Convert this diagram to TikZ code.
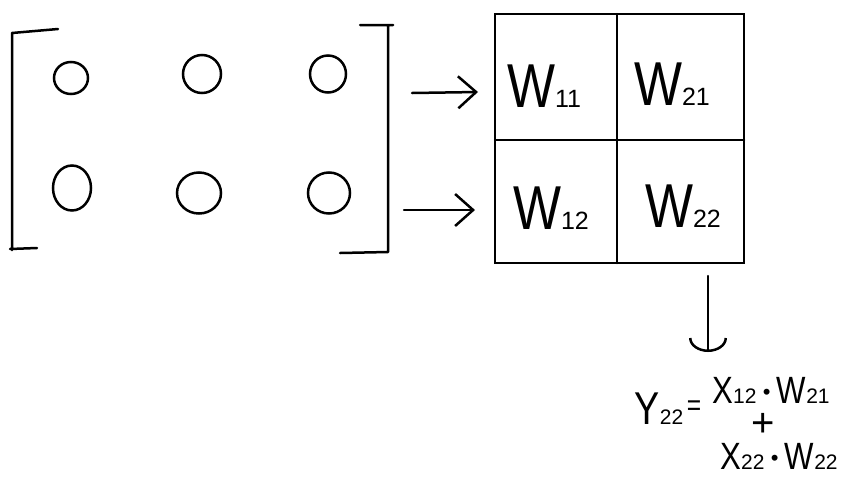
\documentclass[tikz,border=0pt]{standalone}
\usepackage{fontspec}
\setmainfont{Liberation Sans}
\usetikzlibrary{arrows.meta,shapes.geometric}
\newcommand{\nar}[1]{\scalebox{0.82}[1]{#1}}
\newcommand{\wsub}[1]{{\fontsize{25}{25}\selectfont #1}}
\newcommand{\esub}[1]{{\fontsize{21}{21}\selectfont #1}}
\newcommand{\edot}{\,{\fontsize{22}{22}\selectfont\raisebox{4pt}{•}}\,}
\begin{document}
\begin{tikzpicture}[x=1pt,y=-1pt,
  ink/.style={line width=2.5pt,line cap=round,line join=round,black},
  ring/.style={ellipse,draw,line width=2.5pt,inner sep=0pt},
  wlab/.style={font=\fontsize{62}{62}\selectfont,inner sep=0pt},
  elab/.style={font=\fontsize{38}{38}\selectfont,inner sep=0pt},
  harrow/.style={ink,-{Straight Barb[length=18pt,width=32pt,line width=2.5pt]}},
  varrow/.style={ink,-{Arc Barb[length=14pt,width=38pt,line width=2.5pt]}}]
\useasboundingbox (0,0) rectangle (862,488);
% matrix brackets
\draw[ink] (58,29) -- (12,33) -- (12,250) (10,249) -- (37,248);
\draw[ink] (360,25) -- (393,25) (388,25) -- (388,252) -- (340,253);
% rings
\node[ring,minimum width=34pt,minimum height=32pt] (x11) at (71,78) {};
\node[ring,minimum width=38pt,minimum height=38pt] (x21) at (202,74) {};
\node[ring,minimum width=36pt,minimum height=37pt] (x31) at (328,74) {};
\node[ring,minimum width=38pt,minimum height=45pt] (x12) at (72,188) {};
\node[ring,minimum width=44pt,minimum height=41pt] (x22) at (199,193) {};
\node[ring,minimum width=42pt,minimum height=41pt] (x32) at (329,193) {};
% grid
\node[draw,line width=2.5pt,minimum width=249pt,minimum height=249pt,inner sep=0pt] (grid) at (619.5,138.5) {};
\draw[ink] (617,14) -- (617,263);
\draw[ink] (495,140) -- (744,140);
\node[wlab] (w11) at (544,86) {\nar{W}\wsub{11}};
\node[wlab] (w21) at (672,84) {\nar{W}\wsub{21}};
\node[wlab] (w12) at (551,208) {\nar{W}\wsub{12}};
\node[wlab] (w22) at (683,206) {\nar{W}\wsub{22}};
% arrows into grid
\coordinate (a1) at (412,93);
\coordinate (b1) at (478,92);
\coordinate (a2) at (404,210);
\coordinate (b2) at (475,210);
\draw[harrow] (a1) -- (b1);
\draw[harrow] (a2) -- (b2);
% down arrow
\coordinate (d1) at (708,276);
\coordinate (d2) at (708,352);
\draw[varrow] (d1) -- (d2);
% equation
\node[elab,font=\fontsize{46}{46}\selectfont] (y) at (659,409) {\nar{Y}\esub{22}};
\node[elab] (eq) at (694,408) {\fontsize{30}{30}\selectfont\nar{=}};
\node[elab] (l1) at (771,390) {\nar{X}\esub{12}\edot\nar{W}\esub{21}};
\node[elab] (pl) at (763,425) {\fontsize{40}{40}\selectfont +};
\node[elab] (l2) at (779,456) {\nar{X}\esub{22}\edot\nar{W}\esub{22}};
\end{tikzpicture}
\end{document}
